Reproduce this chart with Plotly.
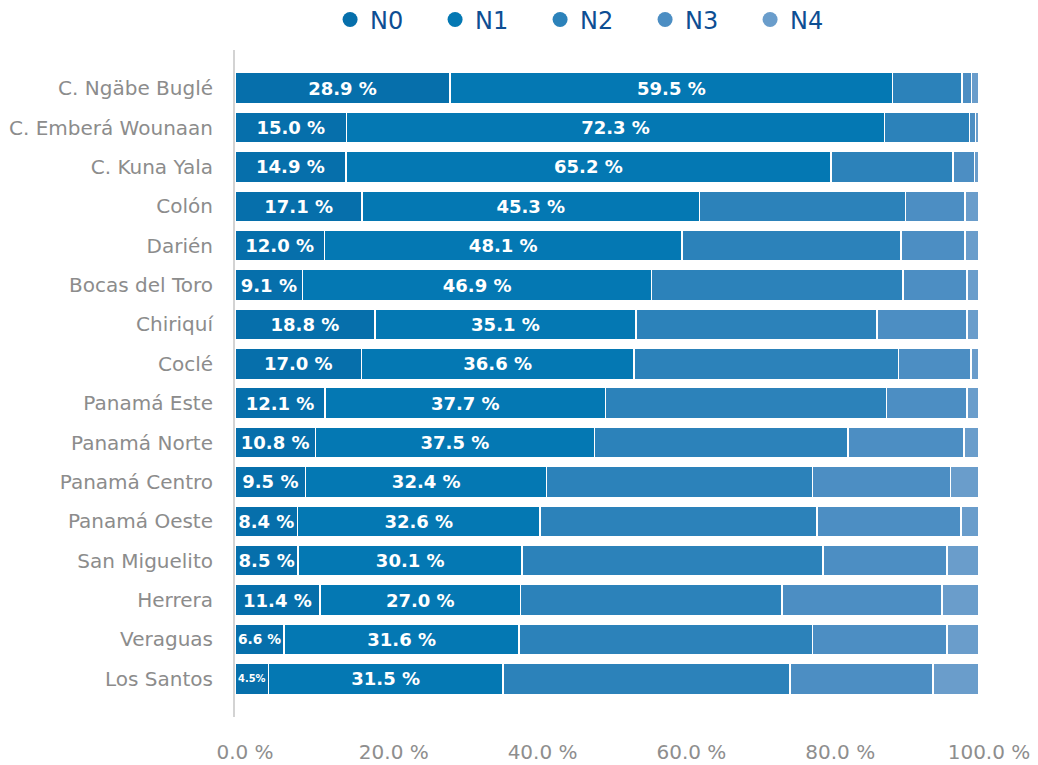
import plotly.graph_objects as go

regions = [
    "C. Ngäbe Buglé", "C. Emberá Wounaan", "C. Kuna Yala", "Colón", "Darién",
    "Bocas del Toro", "Chiriquí", "Coclé", "Panamá Este", "Panamá Norte",
    "Panamá Centro", "Panamá Oeste", "San Miguelito", "Herrera", "Veraguas",
    "Los Santos",
]
n0 = [28.9, 15.0, 14.9, 17.1, 12.0, 9.1, 18.8, 17.0, 12.1, 10.8, 9.5, 8.4, 8.5, 11.4, 6.6, 4.5]
n1 = [59.5, 72.3, 65.2, 45.3, 48.1, 46.9, 35.1, 36.6, 37.7, 37.5, 32.4, 32.6, 30.1, 27.0, 31.6, 31.5]
n2 = [9.3, 11.4, 16.4, 27.7, 29.4, 33.8, 32.4, 35.6, 37.8, 34.1, 35.7, 37.2, 40.4, 35.1, 39.4, 38.6]
n3 = [1.3, 0.8, 2.9, 8.0, 8.6, 8.6, 12.1, 9.7, 10.8, 15.6, 18.6, 19.4, 16.7, 21.5, 18.1, 19.2]
n4 = [1.0, 0.5, 0.6, 1.9, 1.9, 1.6, 1.6, 1.1, 1.6, 2.0, 3.8, 2.4, 4.3, 5.0, 4.3, 6.2]

series = [
    ("N0", n0, "#066FAB", True),
    ("N1", n1, "#0478B3", True),
    ("N2", n2, "#2C82BA", False),
    ("N3", n3, "#4C8EC3", False),
    ("N4", n4, "#6A9DCB", False),
]

font = "'DejaVu Sans', Lato, sans-serif"


def pct(v):
    # very narrow segments drop the space, as in the original
    return f"{v:.1f}%" if v < 5 else f"{v:.1f} %"


fig = go.Figure()
for name, vals, color, labelled in series:
    fig.add_trace(go.Bar(
        y=regions, x=vals, orientation="h", name=name,
        marker=dict(color=color, line=dict(color="white", width=1.5)),
        text=[pct(v) for v in vals] if labelled else None,
        textposition="inside" if labelled else "none",
        insidetextanchor="middle",
        textfont=dict(color="white", size=18, family=font, weight="bold"),
        showlegend=False, hoverinfo="x+y",
    ))
    # circle legend markers
    fig.add_trace(go.Scatter(
        x=[None], y=[None], mode="markers", name=name,
        marker=dict(color=color, size=15, symbol="circle"),
    ))

fig.update_layout(
    width=1038, height=765,
    barmode="stack", bargap=0.21,
    plot_bgcolor="white", paper_bgcolor="white",
    margin=dict(l=235, r=59, t=50, b=48, autoexpand=False),
    font=dict(family=font),
    legend=dict(
        orientation="h", traceorder="normal",
        xref="container", yref="container",
        x=0.318, xanchor="left", y=0.974, yanchor="middle",
        font=dict(size=24, color="#0D4E93"), itemwidth=30,
        entrywidth=60,
    ),
    xaxis=dict(
        range=[0, 100], tickvals=[0, 20, 40, 60, 80, 100],
        ticktext=["0.0 %", "20.0 %", "40.0 %", "60.0 %", "80.0 %", "100.0 %"],
        showgrid=False, zeroline=False, showline=False, automargin=False,
        tickfont=dict(size=20, color="#8E8E8E"),
        ticklabelstandoff=21, ticklabelshift=10,
    ),
    yaxis=dict(
        categoryorder="array", categoryarray=regions,
        range=[15.97, -0.97], automargin=False,
        showgrid=False, zeroline=False,
        showline=True, linecolor="#D3D3D3", linewidth=2,
        tickfont=dict(size=20, color="#8C8C8C"),
        ticklabelstandoff=16,
    ),
)

fig.write_html(
    "out.html",
    config={"displayModeBar": False},
    post_script="document.body.style.margin = '0';",
)
